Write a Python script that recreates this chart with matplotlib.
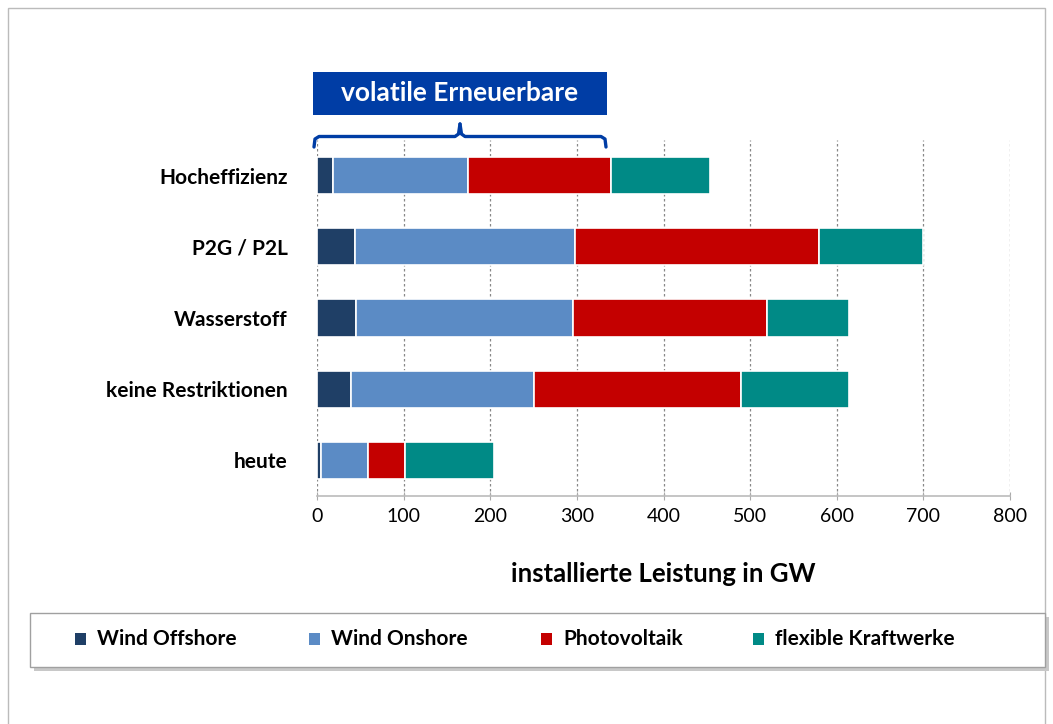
import matplotlib
matplotlib.use("Agg")
import matplotlib.pyplot as plt
from matplotlib.patches import Rectangle
from matplotlib.lines import Line2D
import numpy as np

plt.rcParams['font.family'] = ['Lato', 'DejaVu Sans']

categories = ["heute", "keine Restriktionen", "Wasserstoff", "P2G / P2L", "Hocheffizienz"]
series_names = ["Wind Offshore", "Wind Onshore", "Photovoltaik", "flexible Kraftwerke"]
wind_offshore = [5, 39, 45, 44, 19]
wind_onshore = [54, 211, 250, 254, 155]
photovoltaik = [43, 240, 225, 282, 165]
flexible = [102, 124, 94, 120, 115]
colors = ["#1F3F66", "#5B8BC5", "#C40000", "#008A86"]
xticks = [0, 100, 200, 300, 400, 500, 600, 700, 800]
xlabel = "installierte Leistung in GW"
bracket_label = "volatile Erneuerbare"

W, H = 1053, 724
fig = plt.figure(figsize=(W / 100, H / 100), dpi=100)

# outer frame
fig.patches.append(Rectangle((8 / W, -0.1), (1045 - 8) / W, 1 - 8 / H + 0.1,
                             transform=fig.transFigure, fill=False,
                             edgecolor="#BBBBBB", linewidth=1.0))

ax = fig.add_axes([317 / W, 1 - 496 / H, (1010 - 317) / W, (496 - 140) / H])
y = np.arange(len(categories))
left = np.zeros(len(categories))
for vals, c, name in zip([wind_offshore, wind_onshore, photovoltaik, flexible], colors, series_names):
    ax.barh(y, vals, left=left, height=0.52, color=c, edgecolor="white",
            linewidth=1.2, label=name, zorder=3)
    left += np.array(vals)

ax.set_xlim(0, 800)
ax.set_ylim(-0.5, 4.5)
ax.set_xticks(xticks)
ax.set_xticklabels([str(t) for t in xticks], fontsize=14)
ax.set_yticks(y)
ax.set_yticklabels(categories, fontsize=15, fontweight="bold")
ax.tick_params(axis="y", length=0, pad=21)
ax.tick_params(axis="x", length=6, color="#AAAAAA", direction="inout", pad=6)
for s in ["top", "right", "left"]:
    ax.spines[s].set_visible(False)
ax.spines["bottom"].set_color("#BBBBBB")
ax.spines["bottom"].set_linewidth(1.2)
ax.grid(axis="x", linestyle=(0, (2, 2)), color="#888888", linewidth=0.9, zorder=0)
ax.set_axisbelow(True)
ax.set_xlabel(xlabel, fontsize=18.5, fontweight="bold", labelpad=26)

# title box
fig.patches.append(Rectangle((313 / W, 1 - 115 / H), (607 - 313) / W, (115 - 72) / H,
                             transform=fig.transFigure, facecolor="#003DA5",
                             edgecolor="none"))
fig.text(460 / W, 1 - 93 / H, bracket_label, color="white", fontsize=19,
         fontweight="bold", ha="center", va="center")

# brace
bc = "#003DA5"
def fy(p):
    return 1 - p / H
def fx(p):
    return p / W
for side in (-1, 1):
    xe = 460 + side * 146
    xs = [xe, xe - side * 1, xe - side * 5, 460 + side * 5, 460 + side * 1.5, 460]
    ys = [147, 139, 136.5, 136.5, 134, 124]
    fig.add_artist(Line2D([fx(v) for v in xs], [fy(v) for v in ys],
                          transform=fig.transFigure, color=bc, linewidth=2.4,
                          solid_joinstyle="round", solid_capstyle="round"))

# legend box with shadow
lx0, lx1, ly0, ly1 = 30, 1045, 613, 667
fig.patches.append(Rectangle(((lx0 + 4) / W, 1 - (ly1 + 4) / H), (lx1 - lx0) / W, (ly1 - ly0) / H,
                             transform=fig.transFigure, facecolor="#C8C8C8",
                             edgecolor="none"))
fig.patches.append(Rectangle((lx0 / W, 1 - ly1 / H), (lx1 - lx0) / W, (ly1 - ly0) / H,
                             transform=fig.transFigure, facecolor="white",
                             edgecolor="#A0A0A0", linewidth=1.0))
sq_x = [75, 309, 541, 753]
ly = 639
for sx, c, name in zip(sq_x, colors, series_names):
    fig.patches.append(Rectangle((sx / W, 1 - (ly + 6) / H), 11 / W, 12 / H,
                                 transform=fig.transFigure, facecolor=c, edgecolor="none"))
    fig.text((sx + 22) / W, 1 - ly / H, name, fontsize=15, fontweight="bold",
             ha="left", va="center")

fig.savefig("out.png", dpi=100)
